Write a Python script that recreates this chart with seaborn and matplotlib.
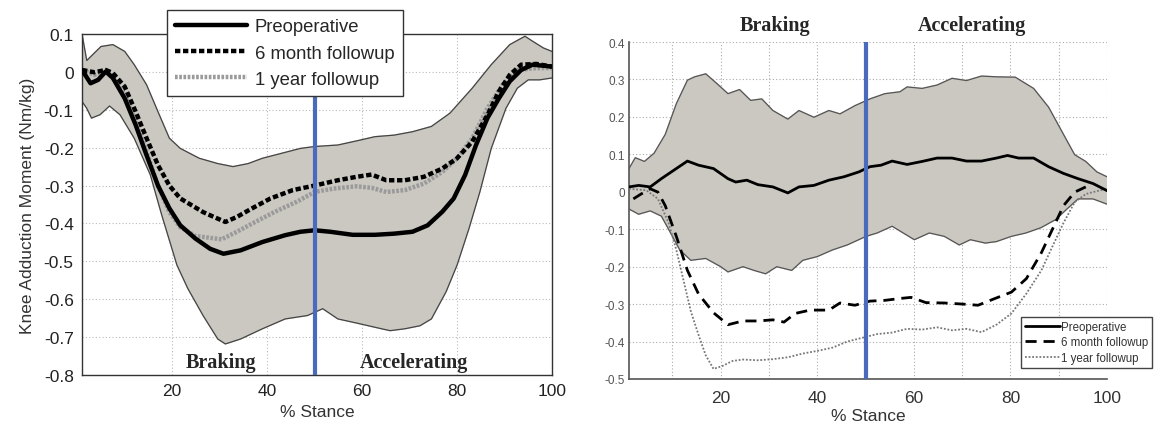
import numpy as np
import matplotlib
matplotlib.use("Agg")
import matplotlib.pyplot as plt
import seaborn as sns

# ---- left panel data (% stance, Nm/kg) ----
L_up_x = [1, 2, 5, 7.5, 10, 12, 14.6, 17, 19.4, 21.7, 25.7, 29.6, 32.8, 36, 39, 43, 47, 50, 54.9, 59.6, 62.7, 66.7, 70.6, 74.6, 78.5, 83.2, 87.2, 91.1, 94.3, 95.9, 98.2, 100]
L_up_y = [0.1, 0.03, 0.067, 0.072, 0.054, 0.019, -0.034, -0.105, -0.175, -0.202, -0.228, -0.242, -0.25, -0.242, -0.228, -0.215, -0.202, -0.197, -0.193, -0.18, -0.171, -0.167, -0.158, -0.144, -0.109, -0.043, 0.019, 0.072, 0.094, 0.081, 0.063, 0.054]
L_lo_x = [1, 2, 3, 4.8, 6.8, 9, 12, 15.4, 17.8, 21, 23.3, 26.5, 29.6, 31.2, 34.4, 39, 43.8, 48.5, 51.7, 54.9, 59.6, 62.7, 65.9, 69, 72.2, 74.6, 77.7, 80, 82.5, 84.8, 87.2, 90.3, 92.7, 95, 97.4, 100]
L_lo_y = [-0.078, -0.096, -0.122, -0.113, -0.09, -0.113, -0.175, -0.272, -0.378, -0.51, -0.572, -0.643, -0.705, -0.718, -0.705, -0.678, -0.652, -0.643, -0.625, -0.652, -0.665, -0.674, -0.683, -0.678, -0.67, -0.652, -0.58, -0.51, -0.414, -0.317, -0.202, -0.096, -0.043, -0.021, -0.021, -0.016]

L_pre_x = [1, 2.8, 4.4, 6, 7.5, 10, 12.3, 14.6, 17, 19.4, 21.7, 24.9, 28, 30.8, 34.4, 39, 43.8, 47, 50, 53.3, 58, 62.7, 66.7, 70.6, 73.8, 76.9, 79.3, 81.7, 84, 86.4, 88.8, 91.1, 93.5, 95.9, 100]
L_pre_y = [0.005, -0.03, -0.021, 0.001, -0.016, -0.07, -0.14, -0.22, -0.3, -0.36, -0.405, -0.44, -0.467, -0.48, -0.471, -0.449, -0.431, -0.422, -0.418, -0.422, -0.43, -0.43, -0.427, -0.422, -0.405, -0.369, -0.334, -0.272, -0.193, -0.122, -0.07, -0.025, 0.005, 0.019, 0.014]
L_6m_x = [1, 3.6, 6, 7.5, 10, 12.3, 14.6, 17, 19.4, 21.7, 24.1, 26.5, 28.8, 31.2, 33.6, 36.7, 40.7, 45.4, 50, 54.9, 58.8, 62, 65.1, 69, 73, 76.9, 80, 83.2, 86.4, 88.8, 91.1, 93.5, 96.7, 100]
L_6m_y = [0.005, -0.001, 0.005, -0.003, -0.039, -0.105, -0.175, -0.246, -0.3, -0.334, -0.352, -0.37, -0.383, -0.396, -0.383, -0.361, -0.334, -0.312, -0.3, -0.286, -0.277, -0.271, -0.286, -0.286, -0.277, -0.255, -0.228, -0.184, -0.114, -0.052, -0.008, 0.019, 0.021, 0.014]
L_1y_x = [1, 3.6, 6, 7.5, 10, 12.3, 14.6, 17, 19.4, 21.7, 24.9, 28, 30.4, 33.6, 37.5, 41.5, 46.2, 50, 54, 58.8, 62, 65.1, 69, 73, 76.9, 80, 83.2, 86.4, 89.6, 92.7, 96.7, 100]
L_1y_y = [0.005, -0.008, 0.001, -0.016, -0.06, -0.131, -0.21, -0.3, -0.37, -0.41, -0.433, -0.438, -0.442, -0.422, -0.396, -0.37, -0.343, -0.317, -0.308, -0.302, -0.306, -0.317, -0.312, -0.295, -0.264, -0.228, -0.175, -0.096, -0.034, 0.005, 0.01, 0.01]

# ---- right panel data ----
R_up_x = [1, 2.3, 4.2, 6.2, 8.5, 10.8, 13.1, 14.6, 16.9, 19.2, 21.5, 23.9, 26.2, 28.5, 30.8, 33.9, 36.2, 39.3, 42.4, 44.7, 47.8, 50.9, 54, 57.1, 58.6, 61.7, 64.8, 67.9, 70.9, 74, 77.1, 81, 84.8, 87.9, 91, 93.3, 95.6, 97.9, 100]
R_up_y = [0.062, 0.091, 0.081, 0.103, 0.153, 0.235, 0.298, 0.307, 0.315, 0.289, 0.262, 0.273, 0.244, 0.248, 0.217, 0.194, 0.217, 0.199, 0.217, 0.208, 0.23, 0.248, 0.262, 0.267, 0.28, 0.276, 0.285, 0.303, 0.297, 0.309, 0.307, 0.306, 0.276, 0.226, 0.153, 0.099, 0.081, 0.053, 0.04]
R_lo_x = [1, 3, 5.4, 7.7, 9.2, 11.5, 13.8, 16.9, 20, 21.5, 24.6, 26.9, 29.3, 31.6, 34.7, 37, 40, 43.2, 46.2, 50.1, 52.4, 55.5, 57.8, 60.1, 63.2, 66.3, 69.4, 71.7, 74.8, 77.1, 80.2, 83.2, 86.3, 89.4, 91.7, 94, 97.1, 100]
R_lo_y = [-0.046, -0.06, -0.051, -0.065, -0.1, -0.155, -0.183, -0.178, -0.2, -0.214, -0.2, -0.21, -0.219, -0.2, -0.21, -0.183, -0.173, -0.155, -0.142, -0.119, -0.11, -0.092, -0.11, -0.128, -0.11, -0.119, -0.142, -0.128, -0.137, -0.133, -0.119, -0.11, -0.096, -0.074, -0.046, -0.019, -0.019, -0.033]

R_pre_x = [1, 3, 5.4, 7.7, 10.8, 13.1, 15.4, 18.5, 21.5, 23.1, 25.4, 27.7, 30.8, 33.9, 36.2, 39.3, 42.4, 45.5, 48.6, 50.9, 53.2, 55.5, 58.6, 61.7, 64.8, 67.9, 70.9, 74, 77.1, 79.4, 81.7, 84.8, 87.9, 91, 94, 97.1, 100]
R_pre_y = [0.013, 0.017, 0.013, 0.035, 0.062, 0.082, 0.071, 0.062, 0.035, 0.026, 0.031, 0.019, 0.013, -0.003, 0.013, 0.017, 0.031, 0.04, 0.053, 0.067, 0.071, 0.082, 0.073, 0.081, 0.09, 0.09, 0.082, 0.082, 0.09, 0.097, 0.09, 0.09, 0.067, 0.049, 0.035, 0.022, 0.003]
R_6m_x = [1.9, 3.5, 5.4, 7, 8.5, 10.8, 13.1, 15.4, 18.5, 21.5, 24.6, 27.7, 30.8, 33.1, 35.4, 38.5, 42.4, 44.7, 47.8, 50.9, 54, 57.1, 59.4, 62.5, 66.3, 70.2, 73.3, 76.4, 80.2, 83.3, 86.4, 88.7, 91, 93.3, 95.6]
R_6m_y = [-0.019, -0.006, 0.008, -0.001, -0.037, -0.119, -0.21, -0.273, -0.323, -0.355, -0.345, -0.345, -0.342, -0.348, -0.325, -0.316, -0.316, -0.297, -0.303, -0.292, -0.29, -0.285, -0.282, -0.296, -0.297, -0.3, -0.303, -0.287, -0.268, -0.232, -0.163, -0.1, -0.037, -0.001, 0.013]
R_1y_x = [1, 4.6, 7, 9.2, 10.8, 12.3, 13.8, 15.4, 16.9, 18.5, 20.4, 22.4, 24.6, 27.7, 30.8, 33.9, 37, 40, 43.2, 46.2, 49.3, 52.4, 55.5, 58.6, 61.7, 64.8, 67.9, 70.9, 74, 77.1, 80.2, 83.3, 86.4, 88.7, 91, 93.3, 95.6, 98.6, 100]
R_1y_y = [0.008, 0.004, -0.019, -0.083, -0.155, -0.237, -0.319, -0.382, -0.437, -0.473, -0.465, -0.452, -0.448, -0.45, -0.447, -0.442, -0.432, -0.425, -0.416, -0.4, -0.39, -0.38, -0.376, -0.366, -0.368, -0.362, -0.37, -0.366, -0.375, -0.355, -0.325, -0.272, -0.21, -0.146, -0.083, -0.028, -0.006, 0.004, 0.008]

series_labels = ["Preoperative", "6 month followup", "1 year followup"]

sns.set_style("white")
plt.rcParams["font.family"] = ["Liberation Sans", "DejaVu Sans"]

W, H = 1160, 431
fig = plt.figure(figsize=(W / 100, H / 100), dpi=100)
axL = fig.add_axes([82 / W, 1 - 376 / H, 470 / W, 341 / H])
axR = fig.add_axes([629 / W, 1 - 380 / H, 478 / W, 337 / H])

band_col = "#cbc8c1"
blue = "#4a6bbd"
serif = ["Liberation Serif", "DejaVu Serif"]

# ---------- left panel ----------
axL.fill(np.r_[L_up_x, L_lo_x[::-1]], np.r_[L_up_y, L_lo_y[::-1]], color=band_col, zorder=1)
axL.plot(L_up_x, L_up_y, color="#444444", lw=0.9, zorder=2)
axL.plot(L_lo_x, L_lo_y, color="#444444", lw=0.9, zorder=2)
sns.lineplot(x=L_1y_x, y=L_1y_y, ax=axL, color="#9a9a9a", lw=3.2, ls=(0, (0.6, 0.35)), label=series_labels[2], zorder=3)
sns.lineplot(x=L_6m_x, y=L_6m_y, ax=axL, color="black", lw=3.2, ls=(0, (1.2, 0.6)), label=series_labels[1], zorder=4)
sns.lineplot(x=L_pre_x, y=L_pre_y, ax=axL, color="black", lw=3.2, label=series_labels[0], zorder=5)
axL.axvline(50, color=blue, lw=3, zorder=6)

axL.set_xlim(1, 100)
axL.set_ylim(-0.8, 0.1)
axL.set_xticks([20, 40, 60, 80, 100])
axL.set_yticks(np.round(np.arange(-0.8, 0.11, 0.1), 1))
axL.set_yticklabels(["-0.8", "-0.7", "-0.6", "-0.5", "-0.4", "-0.3", "-0.2", "-0.1", "0", "0.1"])
axL.grid(True, color="#bbbbbb", ls=(0, (1, 2)), lw=0.8)
axL.tick_params(direction="in", length=4, labelsize=12.5, colors="#222222", pad=6)
for s in axL.spines.values():
    s.set_color("#333333")
    s.set_linewidth(1)
axL.set_xlabel("% Stance", fontsize=12.5, color="#333333", labelpad=4)
axL.set_ylabel("Knee Adduction Moment (Nm/kg)", fontsize=12.5, color="#333333", labelpad=6)
axL.text(30.3, -0.765, "Braking", family=serif, weight="bold", fontsize=14.5, ha="center", va="center", zorder=7)
axL.text(71, -0.765, "Accelerating", family=serif, weight="bold", fontsize=14.5, ha="center", va="center", zorder=7)

h, l = axL.get_legend_handles_labels()
order = [l.index(s) for s in series_labels]
legL = axL.legend([h[i] for i in order], [l[i] for i in order], loc="upper left",
                  bbox_to_anchor=(0.181, 1.07), fontsize=13.3, handlelength=3.9,
                  fancybox=False, framealpha=1, edgecolor="#333333",
                  borderpad=0.45, labelspacing=0.5, handletextpad=0.4, borderaxespad=0)
legL.get_frame().set_linewidth(1)
legL.set_zorder(10)

# ---------- right panel ----------
axR.fill(np.r_[R_up_x, R_lo_x[::-1]], np.r_[R_up_y, R_lo_y[::-1]], color=band_col, zorder=1)
axR.plot(R_up_x, R_up_y, color="#555555", lw=0.9, zorder=2)
axR.plot(R_lo_x, R_lo_y, color="#555555", lw=0.9, zorder=2)
sns.lineplot(x=R_pre_x, y=R_pre_y, ax=axR, color="black", lw=2, label=series_labels[0], zorder=4)
sns.lineplot(x=R_6m_x, y=R_6m_y, ax=axR, color="black", lw=2, ls=(0, (4, 2.5)), label=series_labels[1], zorder=4)
sns.lineplot(x=R_1y_x, y=R_1y_y, ax=axR, color="#777777", lw=1.3, ls=(0, (1, 1)), label=series_labels[2], zorder=3)
axR.axvline(50, color=blue, lw=3, zorder=6)

axR.set_xlim(1, 100)
axR.set_ylim(-0.5, 0.4)
axR.set_xticks(np.arange(10, 101, 10))
axR.set_xticklabels(["" if v % 20 else str(v) for v in range(10, 101, 10)])
axR.set_yticks(np.round(np.arange(-0.5, 0.41, 0.1), 1))
axR.set_yticklabels(["-0.5", "-0.4", "-0.3", "-0.2", "-0.1", "0", "0.1", "0.2", "0.3", "0.4"])
axR.grid(True, color="#aaaaaa", ls=(0, (1, 2)), lw=0.8)
axR.tick_params(axis="y", direction="in", length=3, labelsize=8.5, colors="#555555", pad=3)
axR.tick_params(axis="x", direction="in", length=3, labelsize=12.5, colors="#333333", pad=8)
axR.spines["top"].set_visible(False)
axR.spines["right"].set_visible(False)
for s in ["left", "bottom"]:
    axR.spines[s].set_color("#555555")
    axR.spines[s].set_linewidth(1.2)
axR.set_xlabel("% Stance", fontsize=12.5, color="#333333", labelpad=2)
axR.text(31.2, 1.05, "Braking", family=serif, weight="bold", fontsize=14.5, ha="center", va="center",
         transform=axR.get_xaxis_transform())
axR.text(72, 1.05, "Accelerating", family=serif, weight="bold", fontsize=14.5, ha="center", va="center",
         transform=axR.get_xaxis_transform())

legR = axR.legend(loc="upper left", bbox_to_anchor=(0.82, 0.184), fontsize=8.3, handlelength=3.0,
                  fancybox=False, framealpha=1, edgecolor="#444444",
                  borderpad=0.35, labelspacing=0.3, handletextpad=0.1, borderaxespad=0)
legR.get_frame().set_linewidth(1)
for t in legR.get_texts():
    t.set_color("#333333")

fig.savefig("out.png", dpi=100)
